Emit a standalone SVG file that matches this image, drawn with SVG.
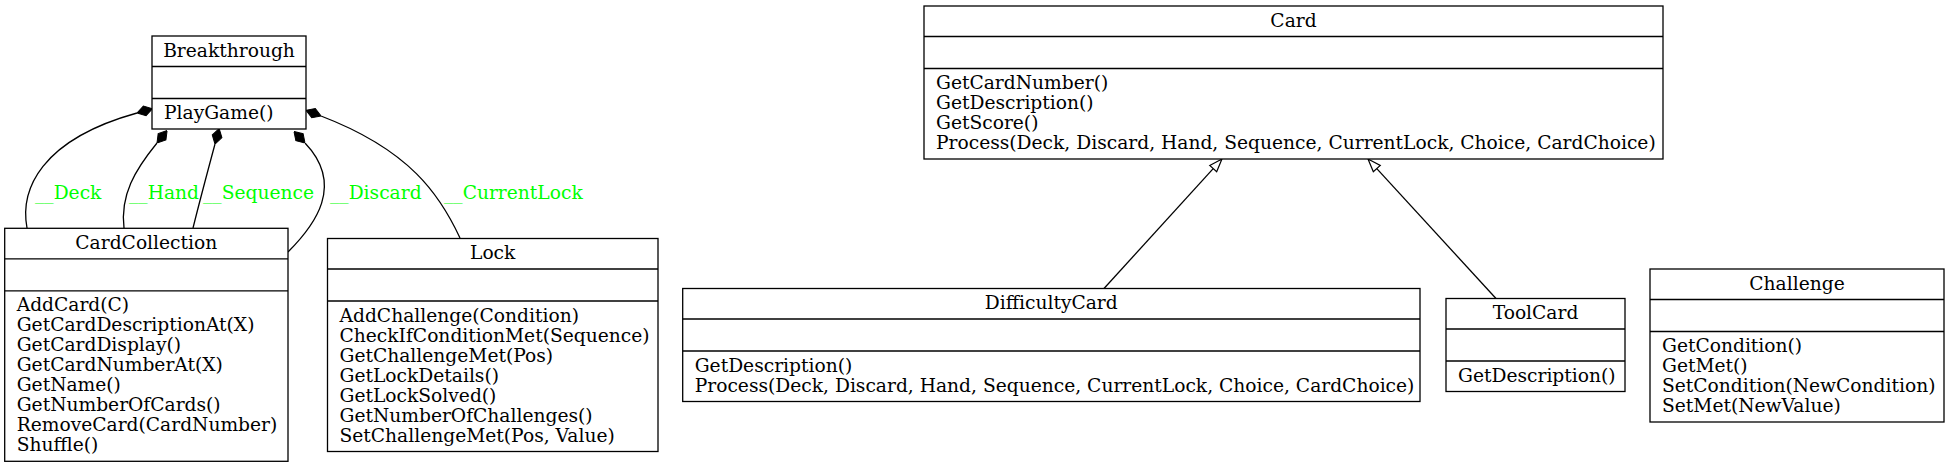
<svg xmlns="http://www.w3.org/2000/svg" width="1950" height="468" viewBox="0 0 1950 468">
<style>
  .box { fill: #ffffff; stroke: #000000; stroke-width: 1.3; }
  .div { stroke: #000000; stroke-width: 1.3; }
  .t { font-family: "DejaVu Serif", serif; font-size: 18.67px; fill: #000000; }
  .c { text-anchor: middle; }
  .lbl { font-family: "DejaVu Serif", serif; font-size: 18.67px; fill: #00ff00; }
  .edge { fill: none; stroke: #000000; stroke-width: 1.3; }
</style>
<defs>
  <marker id="diamond" markerUnits="userSpaceOnUse" viewBox="0 -6 16 12" refX="0" refY="0" markerWidth="16" markerHeight="12" orient="auto">
    <path d="M0,0 L8,-5 L16,0 L8,5 Z" fill="#000000" stroke="#000000" stroke-width="1"/>
  </marker>
  <marker id="tri" markerUnits="userSpaceOnUse" viewBox="-1 -6 15 12" refX="0" refY="0" markerWidth="15" markerHeight="12" orient="auto">
    <path d="M0,-4.7 L13,0 L0,4.7 Z" fill="#ffffff" stroke="#000000" stroke-width="1.2"/>
  </marker>
</defs>
<rect width="1950" height="468" fill="#ffffff"/>

<g id="connectors">
  <path class="edge" d="M27,228 C20,190 40,140 137,113" marker-end="url(#diamond)"/>
  <path class="edge" d="M124,228 C120,195 135,170 157,143" marker-end="url(#diamond)"/>
  <path class="edge" d="M193,228 C200,200 208,170 215,144" marker-end="url(#diamond)"/>
  <path class="edge" d="M288,252 C315,225 345,185 305,143" marker-end="url(#diamond)"/>
  <path class="edge" d="M460,238 C440,195 410,150 321,116" marker-end="url(#diamond)"/>
  <text class="lbl" x="35" y="199">__Deck</text>
  <text class="lbl" x="129" y="199">__Hand</text>
  <text class="lbl" x="203" y="199">__Sequence</text>
  <text class="lbl" x="330" y="199">__Discard</text>
  <text class="lbl" x="444" y="199">__CurrentLock</text>
  <path class="edge" d="M1104,288.5 L1213.2,168.6" marker-end="url(#tri)"/>
  <path class="edge" d="M1496,298.5 L1376.8,168.6" marker-end="url(#tri)"/>
</g>

<g id="Breakthrough">
  <rect class="box" x="152" y="36" width="154" height="93"/>
  <line class="div" x1="152" y1="66.5" x2="306" y2="66.5"/>
  <line class="div" x1="152" y1="98.5" x2="306" y2="98.5"/>
  <text class="t c" x="229" y="56.7">Breakthrough</text>
  <text class="t" x="164" y="119">PlayGame()</text>
</g>

<g id="CardCollection">
  <rect class="box" x="4.7" y="228.3" width="283.3" height="233"/>
  <line class="div" x1="4.7" y1="258.8" x2="288" y2="258.8"/>
  <line class="div" x1="4.7" y1="290.8" x2="288" y2="290.8"/>
  <text class="t c" x="146.3" y="249">CardCollection</text>
  <text class="t" x="16.7" y="311.3">AddCard(C)</text>
  <text class="t" x="16.7" y="331.3">GetCardDescriptionAt(X)</text>
  <text class="t" x="16.7" y="351.3">GetCardDisplay()</text>
  <text class="t" x="16.7" y="371.3">GetCardNumberAt(X)</text>
  <text class="t" x="16.7" y="391.3">GetName()</text>
  <text class="t" x="16.7" y="411.3">GetNumberOfCards()</text>
  <text class="t" x="16.7" y="431.3">RemoveCard(CardNumber)</text>
  <text class="t" x="16.7" y="451.3">Shuffle()</text>
</g>

<g id="Lock">
  <rect class="box" x="327.5" y="238.5" width="330.5" height="213"/>
  <line class="div" x1="327.5" y1="269" x2="658" y2="269"/>
  <line class="div" x1="327.5" y1="301" x2="658" y2="301"/>
  <text class="t c" x="492.7" y="259.2">Lock</text>
  <text class="t" x="339.5" y="321.5">AddChallenge(Condition)</text>
  <text class="t" x="339.5" y="341.5">CheckIfConditionMet(Sequence)</text>
  <text class="t" x="339.5" y="361.5">GetChallengeMet(Pos)</text>
  <text class="t" x="339.5" y="381.5">GetLockDetails()</text>
  <text class="t" x="339.5" y="401.5">GetLockSolved()</text>
  <text class="t" x="339.5" y="421.5">GetNumberOfChallenges()</text>
  <text class="t" x="339.5" y="441.5">SetChallengeMet(Pos, Value)</text>
</g>

<g id="Card">
  <rect class="box" x="924" y="6" width="739" height="153"/>
  <line class="div" x1="924" y1="36.5" x2="1663" y2="36.5"/>
  <line class="div" x1="924" y1="68.5" x2="1663" y2="68.5"/>
  <text class="t c" x="1293.5" y="26.7">Card</text>
  <text class="t" x="936" y="89">GetCardNumber()</text>
  <text class="t" x="936" y="109">GetDescription()</text>
  <text class="t" x="936" y="129">GetScore()</text>
  <text class="t" x="936" y="149">Process(Deck, Discard, Hand, Sequence, CurrentLock, Choice, CardChoice)</text>
</g>

<g id="DifficultyCard">
  <rect class="box" x="682.7" y="288.5" width="737.3" height="113"/>
  <line class="div" x1="682.7" y1="319" x2="1420" y2="319"/>
  <line class="div" x1="682.7" y1="351" x2="1420" y2="351"/>
  <text class="t c" x="1051.3" y="309.2">DifficultyCard</text>
  <text class="t" x="694.7" y="371.5">GetDescription()</text>
  <text class="t" x="694.7" y="391.5">Process(Deck, Discard, Hand, Sequence, CurrentLock, Choice, CardChoice)</text>
</g>

<g id="ToolCard">
  <rect class="box" x="1446" y="298.5" width="179" height="93"/>
  <line class="div" x1="1446" y1="329" x2="1625" y2="329"/>
  <line class="div" x1="1446" y1="361" x2="1625" y2="361"/>
  <text class="t c" x="1535.5" y="319.2">ToolCard</text>
  <text class="t" x="1458" y="381.5">GetDescription()</text>
</g>

<g id="Challenge">
  <rect class="box" x="1650" y="269" width="294" height="153"/>
  <line class="div" x1="1650" y1="299.5" x2="1944" y2="299.5"/>
  <line class="div" x1="1650" y1="331.5" x2="1944" y2="331.5"/>
  <text class="t c" x="1797" y="289.7">Challenge</text>
  <text class="t" x="1662" y="352">GetCondition()</text>
  <text class="t" x="1662" y="372">GetMet()</text>
  <text class="t" x="1662" y="392">SetCondition(NewCondition)</text>
  <text class="t" x="1662" y="412">SetMet(NewValue)</text>
</g>
</svg>
